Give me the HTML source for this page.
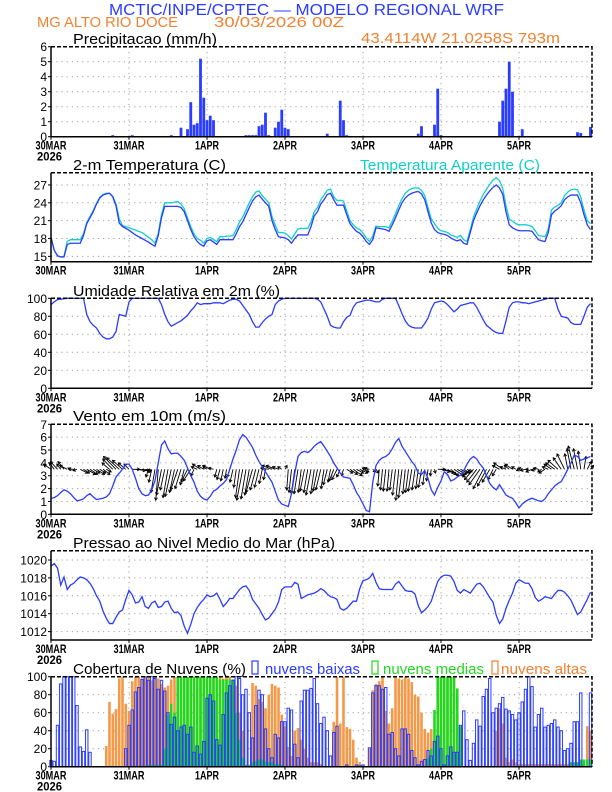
<!DOCTYPE html>
<html><head><meta charset="utf-8">
<style>
html,body{margin:0;padding:0;background:#fff;}
svg{display:block;font-family:"Liberation Sans",sans-serif;}
</style></head>
<body>
<svg id="chart" width="612" height="792" viewBox="0 0 612 792" xmlns="http://www.w3.org/2000/svg">
<text x="109" y="15" font-size="16" fill="#2a3cff" textLength="395" lengthAdjust="spacingAndGlyphs">MCTIC/INPE/CPTEC — MODELO REGIONAL WRF</text>
<text x="37" y="27" font-size="15" fill="#f08232" textLength="141" lengthAdjust="spacingAndGlyphs">MG ALTO RIO DOCE</text>
<text x="214" y="27" font-size="15" fill="#f08232" textLength="130" lengthAdjust="spacingAndGlyphs">30/03/2026 00Z</text>
<text x="361" y="43" font-size="15" fill="#f08232" textLength="199" lengthAdjust="spacingAndGlyphs">43.4114W 21.0258S 793m</text>
<g id="plots"></g>
</svg>
<script>
const days = ["30MAR","31MAR","1APR","2APR","3APR","4APR","5APR"];
const precip = [0,0,0,0,0,0,0,0,0,0, 0,0,0,0,0,0,0,0,0,0.1,
0,0,0,0,0,0.1,0,0,0,0, 0,0,0,0,0,0,0,0.1,0,0,
0.6,0,0.5,2.3,0.8,0.9,5.2,2.6,1.1,1.4, 1.1,0,0,0,0,0,0,0,0,0.05,
0.1,0.1,0.1,0.1,0.7,0.8,1.6,0.1,0,0.6, 1.0,1.8,0.6,0.5,0,0,0,0,0,0,
0,0,0,0,0,0.2,0,0,0,2.4, 1.1,0.1,0,0,0,0,0,0,0,0,
0,0,0,0,0,0,0,0,0,0, 0,0,0,0.2,0.7,0,0,0,0.8,3.2,
0.1,0,0,0,0,0,0,0,0,0, 0,0,0,0,0,0,0,0,1.0,2.4,
3.2,5.0,3.0,0,0,0.5,0,0,0,0, 0,0,0,0,0,0,0,0,0,0,
0,0,0.3,0.25,0,0,0.65];
const temp = [18.2,16,15.1,14.9,14.9,17,17.2,17.2,17.2,17.2,
18.5,20.5,21.5,22.5,23.8,24.8,25.3,25.5,25.6,25,
23.5,20.6,20,19.7,19.4,19,18.6,18.3,18,17.7,
17.4,17,16.7,18.5,21.5,23.4,23.4,23.4,23.4,23.4,
23.2,22.5,21,19.5,18.3,17.5,17,16.7,17.6,17.8,
17.4,17,17.8,17.8,17.8,17.8,17.8,18.8,20,20.8,
22,23.2,24.3,25,25.3,24.6,24,23.4,21,19.5,
18.3,18.2,18.1,17.8,17.2,18,18.6,18.6,18.6,18.6,
20,21.8,22.5,23.8,24.5,25.4,25.6,24.5,23.6,23.6,
23.6,22,20.5,19.8,19.2,18.9,18.3,17.5,17,17.8,
19.8,19.7,19.6,19.5,19.2,20.3,21.5,22.8,24,24.8,
25.3,25.6,25.8,25.9,25.5,24.5,22.5,20.6,19.5,19,
18.8,18.7,18.5,18.1,17.8,17.6,17.8,17.2,17,19,
21,22.3,23.5,24.5,25.3,26,26.6,27,26.5,25.4,
22.5,20.3,19.8,19.5,19.3,19.3,19.3,19.3,19.2,18.5,
17.8,17.6,17.5,19,22,22.6,23,23.5,24.5,25,
25.3,25.3,25.3,24,22,20.3,19.5];
const apparent = [18.2,16,15.1,14.9,15,17.5,17.8,17.8,17.8,17.8,
18.8,20.7,21.7,22.7,23.9,24.9,25.4,25.6,25.6,25.1,
23.8,21.3,20.2,20,19.8,19.6,19.4,19.2,19,18.6,
18.2,17.8,17.2,18.9,22,24,24,24,24.1,24.2,
23.8,23,21.5,20,18.8,18,17.7,17.2,18,18.2,
17.8,17.5,18.3,18.3,18.4,18.4,18.5,19.5,20.8,21.6,
22.8,24,25,25.8,26,25.2,24.6,24,21.7,20.2,
19,19,18.9,18.5,17.9,18.8,19.6,19.7,19.7,19.7,
20.8,22.5,23.2,24.5,25.3,26.1,26.3,25,24.4,24.4,
24.3,22.6,21,20.3,19.8,19.5,18.9,18.1,17.5,18.4,
20.1,20,20,20,19.8,20.9,22.2,23.5,24.7,25.6,
26.1,26.4,26.5,26.5,26.1,25.2,23.2,21.3,20.5,19.7,
19.3,19.2,19,18.6,18.4,18.2,18.5,17.8,17.5,19.5,
21.6,23,24.3,25.4,26.3,27.1,27.8,28.2,27.7,26.4,
23.5,21.3,20.9,20.5,20.3,20.3,20.3,20.2,20,19.3,
18.5,18.4,18.3,19.6,22.8,23.3,23.6,24,25.2,25.8,
26.2,26.3,26.2,25,22.8,21,20.5];
const humidity = [93,96,98.5,99,99.5,100,100,100,100,100,
100,82,74,70,67,61,57,55,55,57,
63,82,81,80,96,100,100,100,100,100,
100,100,100,100,93,82,74,69,71,73,
75,78,81,86,90,95,93,94,94,94,
95,95,95,94,96,98,99,99,97,92,
87,82,74,68,68,73,77,80,82,93,
97,99,100,100,100,100,100,100,100,100,
100,100,99,96,88,80,70,68,67,67,
74,79,81,90,95,96,97,98,98,97,
96,96,99,100,100,100,100,92,83,75,
70,68,67,67,67,72,78,88,95,96,
97,96,93,89,85,88,92,93,94,95,
95,90,83,76,70,67,64,62,61,61,
75,90,95,96,96,95,95,94,95,96,
97,98,99,100,100,100,88,80,79,78,
73,71,71,71,80,90,94];
const windSpeed = [1.25,1.3,1.45,1.7,1.9,1.8,1.6,1.3,1.05,1.1,
1.2,1.45,1.6,1.35,1.15,1.2,1.25,1.35,1.6,2.2,
2.9,3.2,3.5,3.9,3.9,3.5,2.8,2.0,1.6,1.45,
1.5,1.9,2.6,4.0,5.4,5.7,5.1,4.7,4.75,4.75,
4.5,4.2,3.6,3.0,2.5,1.8,1.4,1.2,1.1,1.4,
1.8,1.95,2.2,2.4,2.7,3.5,4.3,5.0,5.8,6.2,
6.0,5.6,5.2,4.6,4.1,3.7,3.3,2.9,2.5,1.8,
1.1,0.8,0.7,0.6,1.6,3.2,4.5,4.8,4.9,4.8,
5.0,5.3,5.5,5.65,5.3,4.9,4.5,4.0,3.6,3.2,
2.9,2.85,2.8,2.3,1.7,1.3,0.8,0.3,0.2,2.5,
3.8,4.2,4.4,4.5,4.7,5.1,5.6,5.9,5.3,4.9,
4.5,4.1,3.8,3.2,3.1,3.4,2.8,1.9,1.5,2.1,
2.6,3.3,3.1,2.6,2.7,2.9,3.05,3.4,3.9,4.3,
4.5,4.3,3.9,3.6,3.0,2.4,2.1,1.9,2.3,1.9,
1.5,1.35,1.25,0.9,0.5,0.8,1.0,1.15,1.25,1.15,
1.05,1.0,1.2,1.6,1.9,2.2,2.4,2.55,3.0,3.5,
4.0,4.6,4.5,4.2,4.3,4.4,4.5];
const windU = [-1.5,-1,-1.4,-0.8,-1.2,-1.5,-0.5,-1,-0.8,
1.5,1.2,1.8,1.5,1.3,1.6,1.2,1.4,1.0,
-1.5,-2,-2.5,-2.5,-2,-1.5,-1,
1.5,2,2.2,1.8,1.2,
-0.5,-0.6,-0.8,-0.5,-1,-0.9,-1,-1.2,-1,-1.4,-1.2,-0.8,-1.3,-1.5,-0.6,
-1.2,-1.6,-1.2,-0.8,-1.5,-1,
-0.4,-0.6,-0.5,-0.3,-0.5,-0.6,
-0.5,-0.8,-1.2,-1,-0.9,-1.3,-1.1,-0.9,-0.6,-0.4,
-1.6,-2,-1.8,-1.2,-0.8,0.4,
-0.3,-0.5,-0.7,-0.8,-0.6,-0.9,-0.8,-1.0,-0.7,-0.9,-1.0,-0.6,-0.8,-0.5,-0.9,-1.0,-0.7,-0.4,
1.2,1.5,1.8,1.4,1.6,1.2,-0.8,-1.0,0.6,0.5,
-0.3,-0.4,-0.5,-0.4,-0.5,-0.6,-0.6,-0.7,-0.5,-0.6,-0.7,-0.6,-0.5,-0.6,-0.4,-0.3,-0.2,0.2,
1.5,1.8,2,1.8,1.6,2,1.8,1.5,1.2,1.0,
-1.5,-1.8,-2.0,-2.2,-2.0,-1.8,-1.5,-1.0,-0.8,
-1.4,-1.8,-1.2,-1,-1.5,-0.8,
-0.5,-0.8,-1,-0.6,-1.2,-0.7,-1,-0.8,-1.2,
-1.2,-1.5,-1.8,-2,-1.6,-1.5,-0.6,-0.8,-1.2,-0.8,-0.5,0.4,0.8,0.6];
const windV = [0.4,0.5,0.6,0.4,0.6,0.3,0.1,0,-0.1,
-0.3,-0.3,-0.4,-0.4,-0.3,-0.4,-0.3,-0.4,-0.2,
0.5,0.8,1.0,0.9,0.7,0.5,0.4,
0,-0.1,-0.1,-0.2,-0.1,
-0.6,-1.0,-1.8,-2.4,-2.0,-1.6,-2.2,-2.1,-1.8,-1.6,-1.5,-1.2,-1.0,-0.9,-0.5,
0.2,0.4,0.3,0.2,0.3,0.1,
-0.6,-0.8,-0.9,-0.7,-0.6,-1.0,
-1.4,-2.2,-2.4,-2.3,-2.0,-1.8,-1.6,-1.4,-1.1,-0.8,
0.1,0.3,0.3,0.2,0.2,0.3,
-1.6,-1.8,-1.9,-1.9,-1.8,-1.7,-1.8,-2.0,-1.9,-1.7,-1.6,-1.5,-1.2,-1.0,-0.9,-0.8,-0.6,-0.5,
-0.3,-0.4,-0.5,-0.3,-0.3,-0.2,0.1,0.1,-0.2,-0.3,
-1.3,-1.6,-1.7,-1.7,-1.6,-2.0,-2.4,-2.2,-1.9,-1.8,-1.7,-1.6,-1.5,-1.4,-1.2,-0.9,-0.5,-0.3,
0,-0.2,-0.3,-0.4,-0.5,-0.5,-0.4,-0.3,-0.3,-0.2,
-0.6,-0.8,-1.0,-1.2,-1.5,-1.3,-1.0,-0.8,-0.5,
0.3,0.5,0.2,0.3,0.4,0.2,
-0.1,0.1,-0.1,0,-0.2,-0.1,0.1,-0.2,-0.3,
0.2,0.4,0.5,0.7,0.9,1.2,1.2,1.6,1.8,1.6,1.4,1.0,0.6,0.3];
const pressure = [1019.3,1019.6,1019.1,1017.2,1018.1,1016.7,1017.2,1017.4,1017.8,1018.1,
1018,1017.8,1017.4,1016.8,1016,1015.4,1014.3,1013.5,1012.9,1012.9,
1013.6,1014.2,1014.4,1015.6,1016.6,1016.1,1015.2,1015.3,1015.9,1014.8,
1014.6,1015.2,1015.4,1014.7,1014.8,1015.3,1015.4,1014.6,1014.1,1014.2,
1013.8,1012.6,1011.8,1012.8,1014,1014.7,1015.2,1015.6,1016.1,1015.9,
1016,1016.3,1015.6,1014.8,1015.2,1015.7,1015.7,1016.2,1016.7,1017,
1017.1,1016.6,1015.6,1015.1,1014.6,1013.9,1013.3,1013.5,1014,1014.5,
1015.3,1016.7,1017,1017,1017,1017.5,1017.3,1015.7,1015.9,1016.1,
1016.2,1016.3,1016.5,1016.8,1016.6,1016.2,1015.9,1015.8,1015.6,1014.6,
1014.4,1014.6,1015,1015.4,1015.4,1016.8,1017.7,1017.8,1018,1018.5,
1017.5,1016.8,1016.7,1016.7,1016.7,1016.7,1017.3,1017.6,1017.1,1016.6,
1016.5,1016.5,1016.2,1014.9,1014.1,1014.4,1014.8,1015.4,1016.5,1017.6,
1018.1,1018.3,1018.3,1018.2,1017.6,1016.6,1016.3,1016.7,1016.5,1016.3,
1016.8,1017.3,1017.4,1017,1016.4,1015.8,1015.3,1013.8,1012.9,1013.4,
1014.6,1015.5,1016.3,1017.4,1017.8,1017.6,1017.4,1017.4,1016.8,1015.8,
1015.4,1015.6,1015.9,1015.8,1015.7,1016.2,1016.6,1016.6,1016.4,1016,
1015.5,1014.7,1013.9,1014.2,1014.9,1015.6,1016.4];
const cloudLow = [7,6,46,92,100,100,100,100,68,22,
17,41,16,0,0,0,0,0,0,0,
0,0,0,20,46,63,83,88,97,100,
96,100,98,86,96,84,60,47,55,40,
44,46,36,44,16,23,14,28,76,80,
73,30,24,58,82,90,96,100,98,80,
86,60,32,68,85,80,42,20,10,36,
32,50,50,65,63,25,10,73,85,85,
87,98,70,48,55,40,12,38,45,0,
0,2,0,0,2,1,2,0,21,82,
90,90,86,88,36,38,20,12,42,42,
36,18,10,2,6,8,18,12,28,34,
20,2,12,22,16,16,46,62,30,7,
26,52,45,78,86,98,60,65,70,77,
64,62,58,52,60,72,86,100,89,44,
58,65,44,46,48,52,44,40,18,20,
26,50,50,82,0,0,82];
const cloudMid = [0,0,0,0,0,0,0,0,0,0,
0,0,0,0,0,0,0,0,0,0,
0,0,0,0,0,0,0,0,0,0,
2,2,2,2,2,20,58,70,60,100,
100,100,100,100,100,100,100,100,100,100,
100,100,97,97,97,97,97,60,30,10,
2,2,5,6,8,8,6,5,5,3,
3,2,0,0,0,0,0,0,0,0,
0,0,0,0,0,0,0,0,0,0,
0,0,0,0,0,0,0,0,0,0,
0,0,0,0,0,0,0,0,0,0,
0,0,0,0,0,0,10,20,63,100,
100,100,100,100,100,87,45,0,0,0,
0,0,0,0,0,0,0,0,0,0,
0,0,0,0,0,0,0,0,0,0,
0,0,0,0,0,0,0,0,0,0,
5,5,5,8,8,8,8];
const cloudHigh = [0,0,0,0,0,0,0,0,0,0,
0,0,0,0,0,0,0,23,72,59,
64,98,100,70,62,95,100,100,98,100,
100,96,100,98,92,88,90,97,100,100,
100,100,100,100,100,100,100,100,100,100,
100,100,100,98,100,100,95,90,60,40,
0,0,93,90,75,72,65,80,92,90,
88,58,45,22,12,40,43,30,20,10,
5,5,5,3,0,0,0,50,100,48,
100,44,42,30,10,5,0,0,20,85,
92,95,100,62,48,65,100,98,97,100,
98,94,80,78,60,42,38,42,30,100,
100,100,100,100,100,60,0,0,0,0,
0,0,0,0,0,0,0,40,65,48,
10,5,8,5,3,3,3,3,3,3,
3,3,3,3,3,3,3,3,3,3,
3,3,3,3,3,45,40];
const precipTicks = [0,1,2,3,4,5,6];
const tempTicks = [15,18,21,24,27];
const humTicks = [0,20,40,60,80,100];
const windTicks = [0,1,2,3,4,5,6,7];
const presTicks = [1012,1014,1016,1018,1020];
const cloudTicks = [0,20,40,60,80,100];

const NS = "http://www.w3.org/2000/svg";
const root = document.getElementById("plots");
const X0 = 51, PXH = 3.25, DAYPX = 78, XR = 592;
function xh(h){ return X0 + h*PXH; }
function mk(tag, attrs, parent){
  const e = document.createElementNS(NS, tag);
  for (const k in attrs) e.setAttribute(k, attrs[k]);
  (parent||root).appendChild(e);
  return e;
}
function yScale(top,bot,min,max){ return v => bot - (v-min)/(max-min)*(bot-top); }

function panel(name, top, bot, min, max, ticks, showYear){
  const g = mk("g", {});
  
  
  const y = yScale(top,bot,min,max);
  // grid
  for (let d=1; d<days.length; d++){
    const gl = mk("line",{x1:X0+d*DAYPX,x2:X0+d*DAYPX,y1:top,y2:bot,stroke:"#a0a0a0","stroke-width":1,"stroke-dasharray":"1.2,4"},g);
    
    
  }
  ticks.forEach(t=>{
    const yy = y(t);
    if (yy>top+1 && yy<bot-1){
      const gl = mk("line",{x1:X0,x2:XR,y1:yy,y2:yy,stroke:"#a0a0a0","stroke-width":1,"stroke-dasharray":"1.2,4"},g);
      
      
    }
    const tk = mk("line",{x1:X0-3,x2:X0,y1:yy,y2:yy,stroke:"#000"},g);
    
    
    const tl = mk("text",{x:47,y:yy+4.5,"font-size":12,"text-anchor":"end",fill:"#000"},g);
    tl.textContent = t;
    
    
  });
  days.forEach((d,i)=>{
    const xx = X0+i*DAYPX;
    const tk = mk("line",{x1:xx,x2:xx,y1:bot,y2:bot+3,stroke:"#000"},g);
    
    
    const w = d.length===5 ? 31 : 24;
    const tl = mk("text",{x:xx,y:bot+13,"font-size":12,"font-weight":"bold","text-anchor":"middle",textLength:w,lengthAdjust:"spacingAndGlyphs",fill:"#000"},g);
    tl.textContent = d;
    
    
  });
  if (showYear){
    const yl = mk("text",{x:37,y:bot+24,"font-size":12,"font-weight":"bold",textLength:25,lengthAdjust:"spacingAndGlyphs",fill:"#000"},g);
    yl.textContent = "2026";
    
    
  }
  return {g, y, top, bot};
}
function frame(p){
  const a = mk("path",{d:`M${X0},${p.top} V${p.bot} H${XR}`,fill:"none",stroke:"#000","stroke-width":1.5},p.g);
  
  
  const b = mk("path",{d:`M${X0},${p.top} H${XR} V${p.bot}`,fill:"none",stroke:"#000","stroke-width":1.5,"stroke-dasharray":"4,2"},p.g);
  
  
}
function title(txt, x, y, w, color, name){
  const t = mk("text",{x:x,y:y,"font-size":15,fill:color||"#000",textLength:w,lengthAdjust:"spacingAndGlyphs"});
  t.textContent = txt;
  
  
}
function line(p, arr, color, name){
  const d = arr.map((v,i)=>(i?"L":"M")+xh(i).toFixed(2)+","+p.y(v).toFixed(2)).join(" ");
  const l = mk("path",{d:d,fill:"none",stroke:color,"stroke-width":1.3},p.g);
  
  
}

// Precipitation
const p1 = panel("precipitation", 46.7, 136.7, 0, 6, precipTicks, true);
title("Precipitacao (mm/h)", 73, 44, 144, "#000", "precip-title");
precip.forEach((v,i)=>{
  if (v<=0) return;
  const r = mk("rect",{x:xh(i)-1.4,y:p1.y(v),width:2.8,height:p1.bot-p1.y(v),fill:"#2a3cff"},p1.g);
  
  
});
frame(p1);

// Temperature
const p2 = panel("temperature", 172.7, 261.7, 14.1, 29.06, tempTicks, false);
title("2-m Temperatura (C)", 73, 170, 153, "#000", "temp-title");
title("Temperatura Aparente (C)", 360, 170, 180, "#10d0c8", "apparent-temp-legend");
line(p2, apparent, "#10d0c8", "apparent-temp-line");
line(p2, temp, "#2a3cff", "temp-line");
frame(p2);

// Humidity
const p3 = panel("humidity", 298.3, 388.3, 0, 100, humTicks, true);
title("Umidade Relativa em 2m (%)", 73, 296, 207, "#000", "humidity-title");
line(p3, humidity, "#2a3cff", "humidity-line");
frame(p3);

// Wind
const p4 = panel("wind", 424.3, 514.3, 0, 7, windTicks, true);
title("Vento em 10m (m/s)", 73, 421, 153, "#000", "wind-title");
windU.forEach((u,i)=>{
  const x1 = xh(i), y1 = p4.y(3.5);
  const x2 = x1 + u*5, y2 = p4.y(3.5 + windV[i]);
  const a = mk("line",{x1:x1,y1:y1,x2:x2,y2:y2,stroke:"#000","stroke-width":0.9},p4.g);
  
  
  const ang = Math.atan2(y2-y1, x2-x1), L = 3;
  const hd = mk("path",{d:`M${x2+L*Math.cos(ang+2.6)},${y2+L*Math.sin(ang+2.6)} L${x2},${y2} L${x2+L*Math.cos(ang-2.6)},${y2+L*Math.sin(ang-2.6)}`,fill:"none",stroke:"#000","stroke-width":0.9},p4.g);
  
  
});
line(p4, windSpeed, "#2a3cff", "wind-speed-line");
frame(p4);

// Pressure
const p5 = panel("pressure", 550.7, 640, 1011.06, 1021.04, presTicks, true);
title("Pressao ao Nivel Medio do Mar (hPa)", 73, 548, 262, "#000", "pressure-title");
line(p5, pressure, "#2a3cff", "pressure-line");
frame(p5);

// Clouds
const p6 = panel("clouds", 676.7, 766.7, 0, 100, cloudTicks, true);
title("Cobertura de Nuvens (%)", 73, 674, 173, "#000", "cloud-title");
cloudHigh.forEach((v,i)=>{
  if (v<=0) return;
  const r = mk("rect",{x:xh(i)-1.3,y:p6.y(v),width:2.6,height:p6.bot-p6.y(v),fill:"#f39a4a"},p6.g);
  
  
});
cloudMid.forEach((v,i)=>{
  if (v<=0) return;
  const r = mk("rect",{x:xh(i)-1.3,y:p6.y(v),width:2.6,height:p6.bot-p6.y(v),fill:"#20d820"},p6.g);
  
  
});
cloudLow.forEach((v,i)=>{
  if (v<=0) return;
  const r = mk("rect",{x:xh(i)-1.2,y:p6.y(v),width:2.4,height:p6.bot-p6.y(v),fill:"none",stroke:"#2a3cff","stroke-width":1},p6.g);
  
  
});
frame(p6);
const legend = [["nuvens baixas","#2a3cff",252,265,95],["nuvens medias","#20d820",372,383,101],["nuvens altas","#f08232",492,501,86]];
legend.forEach(l=>{
  const b = mk("rect",{x:l[2],y:661,width:6,height:13,fill:"none",stroke:l[1],"stroke-width":1.2});
  
  
  const t = mk("text",{x:l[3],y:674,"font-size":15,fill:l[1],textLength:l[4],lengthAdjust:"spacingAndGlyphs"});
  t.textContent = l[0];
  
  
});
</script>
</body></html>
